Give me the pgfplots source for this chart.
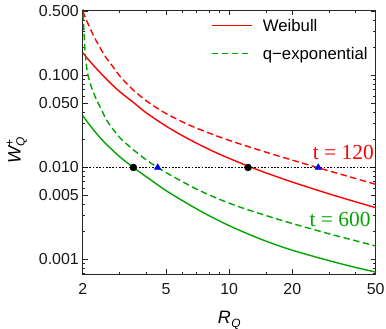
\documentclass[border=0pt]{standalone}
\usepackage{fontspec}
\setmainfont{Liberation Sans}
\newfontfamily\timesfont{Liberation Serif}
\usepackage{pgfplots}
\pgfplotsset{compat=1.18}
\definecolor{mred}{RGB}{255,0,0}
\definecolor{mgreen}{RGB}{0,165,0}
\definecolor{mblue}{RGB}{0,0,255}
\begin{document}
\begin{tikzpicture}
\begin{axis}[
  scale only axis, width=293bp, height=264.3bp,
  xmode=log, ymode=log, xmin=2, xmax=50, ymin=0.00069, ymax=0.515,
  axis line style={line width=0.9bp, black!85},
  every tick/.style={black!85, line width=0.6bp},
  major tick length=5bp, minor tick length=2.8bp,
  tick align=inside,
  xtick={2,5,10,20,50}, xticklabels={2,5,10,20,50},
  minor xtick={3,4,6,7,8,9,15,30,40},
  ytick={0.001,0.005,0.01,0.05,0.1,0.5},
  yticklabels={0.001,0.005,0.010,0.050,0.100,0.500},
  minor ytick={0.0007,0.0008,0.0009,0.002,0.003,0.004,0.006,0.007,0.008,0.009,0.02,0.03,0.04,0.06,0.07,0.08,0.09,0.2,0.3,0.4},
  tick label style={font=\fontsize{16}{18}\selectfont, black!90},
  xticklabel style={inner sep=0pt, anchor=north, yshift=-8.7bp},
  yticklabel style={inner sep=0pt, anchor=east, xshift=-3.7bp},
  xlabel={\itshape R\kern0.5bp\raisebox{-4bp}{\fontsize{12}{14}\selectfont Q}},
  xlabel style={font=\fontsize{18}{20}\selectfont, at={(axis description cs:0.5,0)}, anchor=base, yshift=-48.7bp, inner sep=0pt},
  ylabel={\itshape W\kern0.5bp\makebox[0pt][l]{\raisebox{7bp}{\fontsize{12}{14}\selectfont\upshape +}}\raisebox{-4bp}{\fontsize{12}{14}\selectfont Q}},
  ylabel style={font=\fontsize{18}{20}\selectfont, at={(axis description cs:-0.2253,0.47)}, anchor=center, inner sep=0pt},
]
% Weibull, t = 120
\addplot[mred, line width=1.4bp, smooth] coordinates {
(2,0.1770)(2.1,0.1546)(2.25,0.1288)(2.5,0.0995)(2.75,0.0803)(3,0.0669)(3.5,0.0507)(4,0.0396)(5,0.02815)(6,0.02207)(7,0.01832)(8.5,0.01476)(10,0.01256)(12.3,0.01036)(15,0.00873)(20,0.00694)(30,0.00516)(40,0.00424)(50,0.00366)};
% q-exponential, t = 120
\addplot[mred, line width=1.4bp, smooth, dash pattern=on 6.5bp off 3.5bp] coordinates {
(2,0.501)(2.05,0.436)(2.1,0.383)(2.2,0.304)(2.3,0.2475)(2.45,0.1909)(2.6,0.1535)(2.8,0.1228)(3,0.0992)(3.3,0.0783)(3.6,0.0651)(4,0.0536)(4.5,0.04456)(5,0.03858)(6,0.03119)(7,0.02673)(8.5,0.02250)(10,0.01973)(12,0.01719)(15,0.01465)(20,0.01202)(26.6,0.00993)(35,0.00829)(50,0.00656)};
% Weibull, t = 600
\addplot[mgreen, line width=1.4bp, smooth] coordinates {
(2,0.0367)(2.1,0.0315)(2.2,0.0274)(2.37,0.0223)(2.6,0.0178)(3,0.0131)(3.49,0.0100)(4,0.0080)(5,0.0056)(6.5,0.0039)(8,0.0030)(10,0.00233)(12,0.00194)(15,0.00158)(20,0.00126)(30,0.00097)(40,0.00082)(50,0.00073)};
% q-exponential, t = 600
\addplot[mgreen, line width=1.4bp, smooth, dash pattern=on 6.5bp off 3.5bp] coordinates {
(2,0.60)(2.02,0.36)(2.05,0.19)(2.1,0.112)(2.15,0.089)(2.2,0.075)(2.3,0.058)(2.45,0.043)(2.64,0.031)(3,0.0212)(3.5,0.0155)(4,0.0122)(4.56,0.0100)(5,0.0088)(6,0.0070)(7,0.0058)(9,0.0045)(11.3,0.0037)(15,0.0030)(20,0.00246)(30,0.0019)(40,0.0016)(50,0.0014)};
% threshold line
\addplot[black, line width=1.9bp, dash pattern=on 1.7bp off 1.6bp] coordinates {(2,0.01)(50,0.01)};
\addplot[only marks, mark=*, mark size=3.5bp, black] coordinates {(3.49,0.01)(12.3,0.01)};
\addplot[only marks, mark=triangle*, mark size=3.8bp, mblue] coordinates {(4.56,0.01)(26.6,0.01)};

% legend samples
\addplot[mred, line width=1.4bp] coordinates {(8.25,0.3476)(12.80,0.3476)};
\addplot[mgreen, line width=1.4bp, dash pattern=on 6.5bp off 3.5bp] coordinates {(8.25,0.1743)(12.80,0.1743)};
\node[anchor=base west, inner sep=0pt, font=\fontsize{16.8}{20}\selectfont] at (rel axis cs:0.6143,0.9179) {Weibull};
\node[anchor=base west, inner sep=0pt, font=\fontsize{16.8}{20}\selectfont] at (rel axis cs:0.6143,0.8120) {q−exponential};

\node[anchor=base east, text=mred, font=\timesfont\fontsize{21.5}{24}\selectfont, inner sep=0pt] at (rel axis cs:0.994,0.4325) {t = 120};
\node[anchor=base east, text=mgreen, font=\timesfont\fontsize{21.5}{24}\selectfont, inner sep=0pt] at (rel axis cs:0.983,0.1827) {t = 600};
\end{axis}
\pgfresetboundingbox
\path (current axis.south west) ++(-82.7bp,-54.7bp) rectangle ([xshift=10.3bp,yshift=10bp]current axis.north east);
\end{tikzpicture}
\end{document}
